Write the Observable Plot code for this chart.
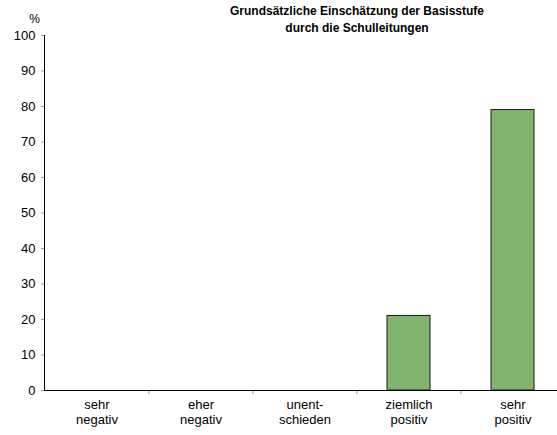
<!DOCTYPE html>
<html>
<head>
<meta charset="utf-8">
<script src="https://cdn.jsdelivr.net/npm/d3@7"></script>
<script src="https://cdn.jsdelivr.net/npm/@observablehq/plot@0.6"></script>
<style>
  body { margin: 0; background: #fff; }
  svg { font-family: "Liberation Sans", Arial, sans-serif; }
</style>
</head>
<body>
<div id="chart"></div>
<script>
const categories = ["sehr negativ", "eher negativ", "unentschieden", "ziemlich positiv", "sehr positiv"];
const tickLabels = ["sehr\nnegativ", "eher\nnegativ", "unent-\nschieden", "ziemlich\npositiv", "sehr\npositiv"];
const values = [0, 0, 0, 21, 79];
const yTicks = [0, 10, 20, 30, 40, 50, 60, 70, 80, 90, 100];
const title = "Grundsätzliche Einschätzung der Basisstufe\ndurch die Schulleitungen";
const yLabel = "%";

const data = categories.map((c, i) => ({category: c, value: values[i]}));
const labelOf = new Map(categories.map((c, i) => [c, tickLabels[i]]));

const width = 557, height = 435;
const marginLeft = 44;
const xRange = [44, 565];
const step = (xRange[1] - xRange[0]) / categories.length;

const plot = Plot.plot({
  width, height,
  marginLeft, marginRight: 0,
  marginTop: 35, marginBottom: 45,
  style: {fontFamily: "Liberation Sans, Arial, sans-serif", fontSize: "12px", color: "#000", background: "#fff", overflow: "hidden"},
  x: {domain: categories, range: xRange, paddingInner: 0.59, paddingOuter: 0.295},
  y: {domain: [0, 100]},
  marks: [
    Plot.axisY(yTicks, {tickSize: 3, tickPadding: 6, stroke: "#999", color: "#000", label: null, fontSize: 13}),
    Plot.axisX(categories.slice(1), {tickSize: 4, dx: -step / 2, stroke: "#999", tickFormat: () => "", label: null}),
    Plot.axisX({tickSize: 0, tickPadding: 8, tickFormat: d => labelOf.get(d), label: null, lineHeight: 1.15, fontSize: 13}),
    Plot.barY(data.filter(d => d.value > 0), {x: "category", y: "value", fill: "#80b46f", stroke: "#1a1a1a", strokeWidth: 1}),
    Plot.frame({anchor: "left", stroke: "#000"}),
    Plot.ruleY([0], {stroke: "#000"}),
    Plot.text([yLabel], {frameAnchor: "top-left", dx: -10, dy: -21, textAnchor: "middle", fontSize: 12}),
    Plot.text([title], {frameAnchor: "top", dx: 56, dy: -4, lineAnchor: "bottom", fontWeight: "bold", fontSize: 12, lineHeight: 1.4})
  ]
});
document.getElementById("chart").appendChild(plot);
</script>
</body>
</html>
